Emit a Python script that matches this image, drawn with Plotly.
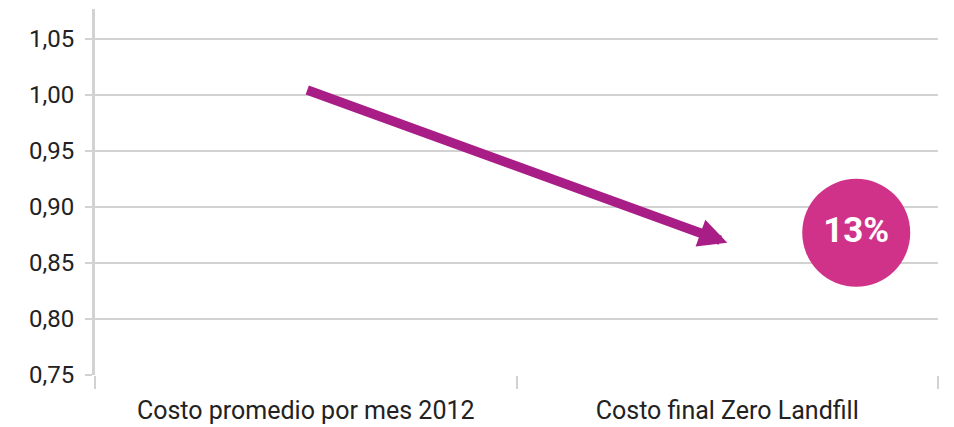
import plotly.graph_objects as go

categories = ["Costo promedio por mes 2012", "Costo final Zero Landfill"]
arrow_values = [1.005, 0.868]
badge_label = "13%"
badge_x = 1.306
badge_y = 0.877
y_ticks = [0.75, 0.80, 0.85, 0.90, 0.95, 1.00, 1.05]

grid = "#D2D2D2"
fig = go.Figure()

# invisible trace to establish category axis
fig.add_trace(go.Scatter(x=categories, y=arrow_values, mode="markers",
                         marker=dict(opacity=0), hoverinfo="skip", showlegend=False))

fig.add_annotation(x=categories[1], y=arrow_values[1], ax=categories[0], ay=arrow_values[0],
                   xref="x", yref="y", axref="x", ayref="y",
                   showarrow=True, arrowhead=2, arrowsize=0.6, arrowwidth=9.5,
                   arrowcolor="#A91E86", text="", standoff=0, startstandoff=0)

fig.add_trace(go.Scatter(x=[badge_x], y=[badge_y], xaxis="x2", mode="markers+text",
                         marker=dict(size=108, color="#D13289", line=dict(width=0)),
                         text=[badge_label], textposition="middle center",
                         textfont=dict(family="Roboto", size=35, color="white", weight="bold"),
                         hoverinfo="skip", showlegend=False, cliponaxis=False))

fig.update_layout(
    width=954, height=427,
    margin=dict(l=95, r=16, t=9, b=52),
    paper_bgcolor="white", plot_bgcolor="white",
    separators=",.",
    font=dict(family="Roboto", color="#222222"),
    showlegend=False,
    xaxis2=dict(overlaying="x", range=[-0.5, 1.5], visible=False, showgrid=False),
)
fig.layout.xaxis.update(type="category", range=[-0.5, 1.5], tickson="boundaries",
                        ticks="outside", ticklen=13, tickwidth=2, tickcolor=grid,
                        showline=False, showgrid=False, zeroline=False, automargin=False,
                        tickfont=dict(size=25, color="#222222"), ticklabelstandoff=18)
fig.update_yaxes(range=[0.75, 1.0768], tickvals=y_ticks, tickformat=".2f",
                 showgrid=True, gridcolor=grid, gridwidth=2,
                 showline=True, linecolor=grid, linewidth=3, automargin=False,
                 ticks="outside", ticklen=7, tickwidth=2, tickcolor=grid,
                 zeroline=False, tickfont=dict(size=24, color="#222222"),
                 ticklabelstandoff=6)

fig.write_html("out.html")
